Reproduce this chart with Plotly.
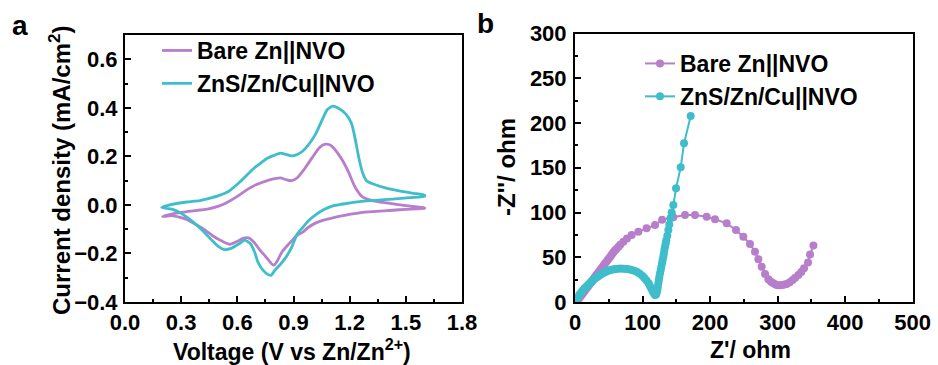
import plotly.graph_objects as go

# ---------------- data: panel a (CV) ----------------
bare_cv_v = [0.20, 0.26, 0.33, 0.40, 0.44, 0.50, 0.54, 0.60, 0.65, 0.70, 0.76, 0.80, 0.83, 0.86, 0.89,
             0.92, 0.96, 1.00, 1.04, 1.07, 1.10, 1.15, 1.19, 1.23, 1.27, 1.32, 1.40, 1.50, 1.56, 1.60,
             1.60, 1.50, 1.43, 1.34, 1.26, 1.18, 1.11, 1.06, 1.02, 0.98, 0.95, 0.92, 0.90, 0.87, 0.84,
             0.81, 0.795, 0.78, 0.75, 0.72, 0.69, 0.66, 0.63, 0.60, 0.56, 0.52, 0.47, 0.42, 0.38, 0.33,
             0.29, 0.25, 0.20]
bare_cv_i = [-0.048, -0.036, -0.028, -0.021, -0.017, -0.005, 0.008, 0.035, 0.062, 0.083, 0.100, 0.108, 0.111, 0.104, 0.100,
             0.112, 0.150, 0.195, 0.237, 0.250, 0.245, 0.198, 0.142, 0.072, 0.032, 0.018, 0.008, -0.003, -0.008, -0.012,
             -0.014, -0.018, -0.022, -0.027, -0.032, -0.042, -0.053, -0.063, -0.074, -0.092, -0.112, -0.124, -0.140, -0.165, -0.192,
             -0.235, -0.248, -0.240, -0.212, -0.185, -0.155, -0.136, -0.138, -0.150, -0.162, -0.150, -0.128, -0.100, -0.082, -0.060,
             -0.050, -0.044, -0.048]

zns_cv_v = [0.196, 0.25, 0.33, 0.40, 0.44, 0.50, 0.55, 0.60, 0.65, 0.69, 0.73, 0.76, 0.80, 0.83, 0.86, 0.89,
            0.92, 0.95, 0.99, 1.02, 1.05, 1.08, 1.11, 1.14, 1.18, 1.21, 1.23, 1.25, 1.27, 1.29, 1.33, 1.40,
            1.47, 1.54, 1.60,
            1.60, 1.52, 1.43, 1.34, 1.26, 1.20, 1.15, 1.11, 1.06, 1.02, 0.98, 0.95, 0.92, 0.89, 0.86, 0.83,
            0.80, 0.78, 0.76, 0.73, 0.71, 0.69, 0.67, 0.64, 0.61, 0.57, 0.53, 0.50, 0.47, 0.43, 0.40, 0.36,
            0.33, 0.29, 0.25, 0.196]
zns_cv_i = [-0.010, 0.002, 0.012, 0.018, 0.025, 0.038, 0.054, 0.085, 0.122, 0.152, 0.175, 0.192, 0.205, 0.213, 0.208, 0.202,
            0.208, 0.222, 0.258, 0.295, 0.345, 0.392, 0.407, 0.398, 0.374, 0.335, 0.270, 0.190, 0.130, 0.100, 0.085, 0.068,
            0.057, 0.048, 0.040,
            0.035, 0.030, 0.024, 0.019, 0.015, 0.008, 0.002, -0.004, -0.020, -0.040, -0.065, -0.092, -0.120, -0.175, -0.215, -0.245,
            -0.270, -0.290, -0.285, -0.262, -0.235, -0.190, -0.160, -0.145, -0.160, -0.178, -0.184, -0.172, -0.150, -0.118, -0.095, -0.068,
            -0.050, -0.030, -0.017, -0.010]

# ---------------- data: panel b (EIS) ----------------
bare_zre = [3, 5, 7, 9, 11, 13, 15, 17, 19, 21, 23, 25, 27, 29, 31, 33, 35, 37, 39, 41, 43, 45, 47, 49, 51, 53,
            55, 57, 59, 61, 64, 67, 71.6, 77, 83.9, 93.8, 106, 118.5, 129, 145.6, 162.9, 177.7, 195, 207.3, 224.6,
            238.4, 249.2, 259.1, 266.5, 271.5, 276.4, 281.4, 286.3, 290, 293.6, 297, 300, 303.6, 307, 310, 313.5,
            318, 322.3, 326, 330.7, 335, 339.1, 345, 348, 353]
bare_zim = [1, 3, 5, 7, 9, 11, 13, 15, 17, 19, 21, 23, 25.5, 27.5, 29.5, 31.5, 33.5, 35.5, 37.5, 39.5, 41.5, 43.5,
            45.5, 47.5, 49.5, 51.5, 53.5, 55.5, 57.5, 59, 61.5, 64, 67.4, 71, 74.9, 78.6, 82.3, 86, 92, 94.6, 97.2,
            97.2, 95.3, 92.4, 87.9, 80.4, 73, 64.8, 56.2, 47.7, 39.5, 31.3, 25.3, 22.5, 20.9, 19.5, 18.8, 18.7, 19,
            19.5, 20.1, 22, 24.6, 27, 30.2, 33.5, 37.6, 44, 53, 63]

zns_zre = [1, 2, 4, 6, 8, 10, 12, 14, 16, 18, 20, 22, 24, 26, 28, 30, 33, 36, 39, 42, 45, 48, 51, 54, 57, 60,
           64, 68, 72, 76, 80, 84, 88, 92, 96, 100, 103, 106, 109, 111, 113, 115, 117, 118.5, 120, 121, 121.9,
           122.7, 123.4, 124.2, 124.9, 125.9, 126.9, 127.8, 128.8, 129.8, 130.8, 131.5, 132.3, 133.3, 134.3, 135.2,
           136.7, 138.2, 139.6, 141.3, 143.1, 145.6, 149.6, 156.5, 161.4, 171.3]
zns_zim = [1, 3, 5, 7.5, 9.5, 11.5, 13.5, 15, 16.5, 18, 19.5, 21, 22.5, 24, 25.5, 26.5, 28, 29.5, 31, 32.5, 33.5,
           34.5, 35.5, 36, 36.5, 37, 37.2, 37.3, 37.2, 37, 36.5, 35.8, 34.8, 33.5, 31.5, 29, 26.5, 24, 21, 18, 15,
           12, 9.5, 7.8, 8.5, 11, 13.4, 17, 20.9, 24.5, 28.3, 32, 35.8, 39.5, 43.2, 47, 50.6, 54, 58.1, 62, 65.6,
           69, 74, 80.4, 86.5, 93.5, 100, 108.4, 127, 150.5, 177.3, 207.8]

names = ["Bare Zn||NVO", "ZnS/Zn/Cu||NVO"]
PURPLE = "#B77ECB"
CYAN = "#3EBDCA"
FONT = "Liberation Sans, Arial, sans-serif"
W, H = 938, 365

fig = go.Figure()
fig.add_trace(go.Scatter(x=bare_cv_v, y=bare_cv_i, mode="lines", name=names[0],
                         line=dict(color=PURPLE, width=2.8, shape="spline", smoothing=0.6),
                         xaxis="x", yaxis="y", legend="legend"))
fig.add_trace(go.Scatter(x=zns_cv_v, y=zns_cv_i, mode="lines", name=names[1],
                         line=dict(color=CYAN, width=2.8, shape="spline", smoothing=0.6),
                         xaxis="x", yaxis="y", legend="legend"))
fig.add_trace(go.Scatter(x=bare_zre, y=bare_zim, mode="lines+markers", name=names[0],
                         line=dict(color=PURPLE, width=2), marker=dict(color=PURPLE, size=8),
                         xaxis="x2", yaxis="y2", legend="legend2"))
fig.add_trace(go.Scatter(x=zns_zre, y=zns_zim, mode="lines+markers", name=names[1],
                         line=dict(color=CYAN, width=2), marker=dict(color=CYAN, size=8),
                         xaxis="x2", yaxis="y2", legend="legend2"))

tickfont = dict(family=FONT, size=22, color="black", weight="bold")
legfont = dict(family=FONT, size=23, color="black", weight="bold")

def axis_style(**kw):
    d = dict(showline=True, linecolor="black", linewidth=2, mirror=True, ticks="inside",
             ticklen=6, tickwidth=2, tickcolor="black", showgrid=False, zeroline=False,
             tickfont=tickfont, automargin=False)
    d.update(kw)
    return d

def label(text, x, y, size=24, angle=0):
    return dict(text=text, x=x / W, y=1 - y / H, xref="paper", yref="paper", showarrow=False,
                xanchor="center", yanchor="middle", textangle=angle,
                font=dict(family=FONT, size=size, color="black", weight="bold"))

fig.update_layout(
    width=W, height=H, margin=dict(l=0, r=0, t=0, b=0, autoexpand=False),
    paper_bgcolor="white", plot_bgcolor="white",
    font=dict(family=FONT, color="black"),
    xaxis=axis_style(domain=[125/W, 462/W], range=[0, 1.8], tick0=0, dtick=0.3, tickformat=".1f",
                     minor=dict(ticks="inside", dtick=0.15, ticklen=3, tickwidth=2, tickcolor="black"),
                     anchor="y", ticklabelstandoff=0),
    yaxis=axis_style(domain=[1-302/H, 1-35/H], range=[-0.4, 0.7], tick0=-0.4, dtick=0.2, tickformat=".1f",
                     minor=dict(ticks="inside", dtick=0.1, ticklen=3, tickwidth=2, tickcolor="black"),
                     anchor="x", ticklabelstandoff=1),
    xaxis2=axis_style(domain=[575/W, 912.7/W], range=[0, 500], tick0=0, dtick=100,
                      minor=dict(ticks="inside", dtick=50, ticklen=3, tickwidth=2, tickcolor="black"),
                      anchor="y2", ticklabelstandoff=0),
    yaxis2=axis_style(domain=[1-302/H, 1-33.5/H], range=[0, 300], tick0=0, dtick=50,
                      minor=dict(ticks="inside", dtick=25, ticklen=3, tickwidth=2, tickcolor="black"),
                      anchor="x2", ticklabelstandoff=2),
    legend=dict(x=157/W, y=1-29/H, xanchor="left", yanchor="top", bgcolor="rgba(0,0,0,0)",
                font=legfont, tracegroupgap=0),
    legend2=dict(x=640/W, y=1-42/H, xanchor="left", yanchor="top", bgcolor="rgba(0,0,0,0)",
                 font=legfont, tracegroupgap=0),
    showlegend=True,
    annotations=[
        label("a", 20, 25, size=28),
        label("b", 486, 24, size=28),
        label("Current density (mA/cm<sup>2</sup>)", 60, 171, angle=-90),
        label("Voltage (V vs Zn/Zn<sup>2+</sup>)", 292, 350, size=23),
        label("-Z''/ ohm", 506, 167, angle=-90),
        label("Z'/ ohm", 750, 350, size=23),
    ],
)

fig.write_html("out.html")
